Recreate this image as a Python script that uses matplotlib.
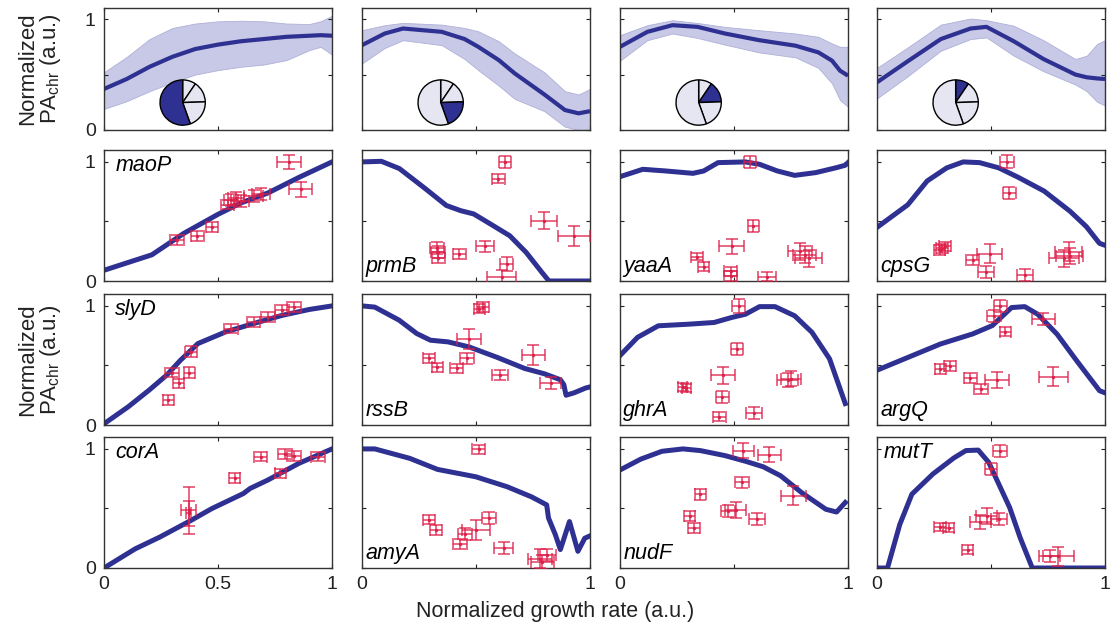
import numpy as np
import matplotlib
matplotlib.use('Agg')
import matplotlib.pyplot as plt

plt.rcParams['font.family'] = ['Liberation Sans', 'DejaVu Sans']
plt.rcParams['mathtext.fontset'] = 'custom'
plt.rcParams['mathtext.rm'] = 'Liberation Sans'
plt.rcParams['mathtext.it'] = 'Liberation Sans:italic'

## top row: mean profile with band, one pie per column
top1_x = [0, 0.1, 0.2, 0.3, 0.4, 0.5, 0.6, 0.7, 0.8, 0.9, 0.95, 1.0]
top1_mid = [0.37, 0.46, 0.57, 0.66, 0.73, 0.77, 0.80, 0.82, 0.84, 0.85, 0.855, 0.85]
top1_hi = [0.52, 0.66, 0.82, 0.92, 0.96, 0.98, 0.985, 0.98, 0.96, 0.955, 0.98, 1.03]
top1_lo = [0.19, 0.26, 0.35, 0.43, 0.50, 0.54, 0.57, 0.59, 0.63, 0.72, 0.75, 0.68]

top2_x = [0, 0.1, 0.18, 0.35, 0.45, 0.51, 0.6, 0.67, 0.8, 0.89, 0.95, 1.0]
top2_mid = [0.765, 0.87, 0.915, 0.885, 0.82, 0.75, 0.63, 0.51, 0.32, 0.18, 0.15, 0.17]
top2_hi = [0.90, 0.945, 0.966, 0.95, 0.92, 0.89, 0.80, 0.69, 0.52, 0.35, 0.32, 0.37]
top2_lo = [0.60, 0.74, 0.81, 0.765, 0.64, 0.54, 0.40, 0.28, 0.17, 0.03, 0.0, 0.0]

top3_x = [0, 0.12, 0.23, 0.34, 0.46, 0.61, 0.77, 0.87, 0.93, 0.965, 1.0]
top3_mid = [0.75, 0.885, 0.945, 0.93, 0.87, 0.81, 0.76, 0.70, 0.625, 0.535, 0.49]
top3_hi = [0.855, 0.945, 0.99, 0.965, 0.93, 0.9, 0.87, 0.84, 0.78, 0.75, 0.75]
top3_lo = [0.625, 0.81, 0.87, 0.83, 0.77, 0.70, 0.655, 0.56, 0.42, 0.27, 0.21]

top4_x = [0, 0.135, 0.28, 0.41, 0.48, 0.6, 0.73, 0.87, 0.92, 0.965, 1.0]
top4_mid = [0.43, 0.62, 0.82, 0.915, 0.93, 0.80, 0.64, 0.50, 0.475, 0.465, 0.46]
top4_hi = [0.56, 0.745, 0.95, 1.005, 0.99, 0.94, 0.81, 0.64, 0.67, 0.775, 0.81]
top4_lo = [0.285, 0.485, 0.715, 0.82, 0.835, 0.67, 0.53, 0.41, 0.35, 0.255, 0.22]

pie_sizes = [9.5, 15, 20, 55.5]
pie_highlight = [3, 2, 1, 0]   # slice shown dark in columns 1..4

## gene panels: model curve + measured points (x, y, xerr, yerr)
maoP_cx = [0, 0.21, 0.35, 0.50, 0.60, 0.72, 0.855, 1.0]
maoP_cy = [0.09, 0.22, 0.40, 0.56, 0.655, 0.74, 0.87, 1.0]
maoP_x = [0.32, 0.41, 0.473, 0.542, 0.557, 0.58, 0.603, 0.656, 0.687, 0.812, 0.863]
maoP_y = [0.346, 0.38, 0.453, 0.642, 0.68, 0.70, 0.67, 0.713, 0.727, 1.0, 0.769]
maoP_xe = [0.03, 0.03, 0.025, 0.03, 0.03, 0.035, 0.035, 0.04, 0.04, 0.053, 0.05]
maoP_ye = [0.04, 0.04, 0.04, 0.04, 0.05, 0.05, 0.05, 0.05, 0.05, 0.056, 0.06]

prmB_cx = [0, 0.085, 0.164, 0.278, 0.37, 0.434, 0.49, 0.563, 0.648, 0.72, 0.79, 0.82, 1.0]
prmB_cy = [1.0, 1.005, 0.944, 0.775, 0.634, 0.59, 0.563, 0.479, 0.38, 0.24, 0.07, 0.0, 0.0]
prmB_x = [0.627, 0.598, 0.332, 0.335, 0.33, 0.427, 0.541, 0.634, 0.613, 0.80, 0.93]
prmB_y = [1.0, 0.86, 0.24, 0.197, 0.28, 0.225, 0.29, 0.14, 0.03, 0.507, 0.375]
prmB_xe = [0.028, 0.028, 0.03, 0.03, 0.03, 0.03, 0.04, 0.03, 0.064, 0.057, 0.069]
prmB_ye = [0.05, 0.04, 0.05, 0.05, 0.05, 0.04, 0.05, 0.06, 0.06, 0.07, 0.085]

yaaA_cx = [0, 0.1, 0.2, 0.32, 0.367, 0.43, 0.55, 0.612, 0.69, 0.766, 0.858, 0.95, 0.988, 1.0]
yaaA_cy = [0.876, 0.938, 0.924, 0.904, 0.924, 0.994, 1.0, 0.98, 0.924, 0.887, 0.91, 0.952, 0.972, 0.994]
yaaA_x = [0.57, 0.585, 0.49, 0.337, 0.367, 0.485, 0.485, 0.646, 0.79, 0.827, 0.81]
yaaA_y = [1.0, 0.465, 0.29, 0.205, 0.12, 0.08, 0.04, 0.037, 0.25, 0.19, 0.22]
yaaA_xe = [0.028, 0.025, 0.054, 0.025, 0.025, 0.03, 0.03, 0.04, 0.054, 0.058, 0.05]
yaaA_ye = [0.05, 0.05, 0.062, 0.03, 0.04, 0.04, 0.04, 0.04, 0.07, 0.07, 0.07]

cpsG_cx = [0, 0.135, 0.22, 0.306, 0.378, 0.45, 0.534, 0.62, 0.733, 0.847, 0.918, 0.976, 1.0]
cpsG_cy = [0.45, 0.64, 0.84, 0.95, 1.0, 0.994, 0.95, 0.87, 0.755, 0.585, 0.457, 0.316, 0.30]
cpsG_x = [0.57, 0.58, 0.285, 0.298, 0.275, 0.42, 0.494, 0.477, 0.648, 0.82, 0.84, 0.845]
cpsG_y = [1.0, 0.74, 0.274, 0.29, 0.26, 0.175, 0.23, 0.076, 0.048, 0.19, 0.246, 0.21]
cpsG_xe = [0.03, 0.028, 0.025, 0.025, 0.025, 0.028, 0.054, 0.035, 0.035, 0.064, 0.06, 0.06]
cpsG_ye = [0.055, 0.05, 0.04, 0.04, 0.04, 0.04, 0.08, 0.05, 0.05, 0.07, 0.08, 0.07]

slyD_cx = [0, 0.107, 0.198, 0.275, 0.336, 0.412, 0.534, 0.656, 0.78, 0.9, 1.0]
slyD_cy = [0.01, 0.154, 0.293, 0.419, 0.545, 0.684, 0.782, 0.852, 0.92, 0.97, 1.0]
slyD_x = [0.282, 0.298, 0.328, 0.374, 0.382, 0.557, 0.656, 0.718, 0.78, 0.832]
slyD_y = [0.21, 0.44, 0.35, 0.44, 0.615, 0.81, 0.866, 0.908, 0.964, 0.99]
slyD_xe = [0.025, 0.03, 0.025, 0.025, 0.025, 0.03, 0.03, 0.03, 0.03, 0.03]
slyD_ye = [0.04, 0.04, 0.04, 0.045, 0.045, 0.04, 0.04, 0.04, 0.04, 0.04]

rssB_cx = [0, 0.056, 0.163, 0.24, 0.30, 0.377, 0.469, 0.59, 0.713, 0.80, 0.87, 0.885, 0.895, 0.93, 0.98, 1.0]
rssB_cy = [1.0, 0.99, 0.88, 0.768, 0.712, 0.698, 0.656, 0.57, 0.475, 0.43, 0.38, 0.34, 0.25, 0.27, 0.31, 0.32]
rssB_x = [0.515, 0.53, 0.293, 0.331, 0.415, 0.46, 0.469, 0.606, 0.751, 0.828]
rssB_y = [0.978, 0.99, 0.56, 0.483, 0.475, 0.56, 0.726, 0.42, 0.587, 0.35]
rssB_xe = [0.025, 0.025, 0.025, 0.025, 0.028, 0.03, 0.053, 0.035, 0.05, 0.046]
rssB_ye = [0.04, 0.04, 0.04, 0.04, 0.04, 0.045, 0.084, 0.045, 0.084, 0.05]

ghrA_cx = [0, 0.077, 0.168, 0.306, 0.413, 0.49, 0.55, 0.612, 0.68, 0.766, 0.842, 0.919, 0.988]
ghrA_cy = [0.583, 0.736, 0.833, 0.847, 0.861, 0.903, 0.93, 0.994, 0.994, 0.917, 0.778, 0.556, 0.18]
ghrA_x = [0.52, 0.513, 0.275, 0.29, 0.452, 0.449, 0.436, 0.587, 0.735, 0.75]
ghrA_y = [1.0, 0.639, 0.32, 0.31, 0.417, 0.236, 0.07, 0.10, 0.375, 0.39]
ghrA_xe = [0.03, 0.025, 0.02, 0.02, 0.054, 0.03, 0.03, 0.035, 0.046, 0.046]
ghrA_ye = [0.06, 0.05, 0.035, 0.035, 0.07, 0.05, 0.04, 0.05, 0.06, 0.06]

argQ_cx = [0, 0.135, 0.278, 0.42, 0.506, 0.59, 0.648, 0.705, 0.79, 0.876, 0.976, 1.0]
argQ_cy = [0.46, 0.567, 0.68, 0.765, 0.835, 0.986, 0.994, 0.93, 0.762, 0.539, 0.288, 0.27]
argQ_x = [0.541, 0.513, 0.563, 0.73, 0.278, 0.32, 0.409, 0.456, 0.527, 0.774]
argQ_y = [1.0, 0.916, 0.785, 0.888, 0.47, 0.497, 0.394, 0.302, 0.377, 0.405]
argQ_xe = [0.03, 0.03, 0.025, 0.05, 0.025, 0.025, 0.028, 0.03, 0.054, 0.064]
argQ_ye = [0.05, 0.05, 0.04, 0.05, 0.04, 0.04, 0.04, 0.045, 0.07, 0.078]

corA_cx = [0, 0.137, 0.244, 0.382, 0.473, 0.611, 0.641, 0.718, 0.855, 1.0]
corA_cy = [0.0, 0.161, 0.259, 0.4, 0.499, 0.625, 0.668, 0.738, 0.879, 1.0]
corA_x = [0.371, 0.371, 0.573, 0.687, 0.774, 0.794, 0.832, 0.94]
corA_y = [0.485, 0.46, 0.757, 0.935, 0.794, 0.958, 0.94, 0.935]
corA_xe = [0.034, 0.01, 0.025, 0.03, 0.025, 0.03, 0.03, 0.03]
corA_ye = [0.197, 0.105, 0.04, 0.04, 0.04, 0.04, 0.04, 0.04]

amyA_cx = [0, 0.056, 0.209, 0.331, 0.499, 0.637, 0.744, 0.81, 0.818, 0.848, 0.87, 0.91, 0.947, 0.977, 1.0]
amyA_cy = [1.0, 1.0, 0.921, 0.828, 0.766, 0.682, 0.597, 0.53, 0.42, 0.28, 0.155, 0.39, 0.14, 0.25, 0.27]
amyA_x = [0.511, 0.293, 0.324, 0.43, 0.453, 0.5, 0.557, 0.621, 0.782, 0.79, 0.81]
amyA_y = [0.997, 0.406, 0.321, 0.20, 0.287, 0.32, 0.42, 0.17, 0.076, 0.05, 0.11]
amyA_xe = [0.028, 0.025, 0.025, 0.03, 0.03, 0.06, 0.03, 0.043, 0.053, 0.05, 0.04]
amyA_ye = [0.04, 0.04, 0.04, 0.04, 0.05, 0.085, 0.05, 0.05, 0.08, 0.06, 0.05]

nudF_cx = [0, 0.092, 0.184, 0.276, 0.352, 0.46, 0.551, 0.628, 0.704, 0.796, 0.903, 0.95, 0.988]
nudF_cy = [0.823, 0.915, 0.98, 1.0, 0.986, 0.944, 0.896, 0.85, 0.775, 0.634, 0.493, 0.47, 0.55]
nudF_x = [0.54, 0.655, 0.536, 0.352, 0.306, 0.325, 0.475, 0.508, 0.6, 0.76]
nudF_y = [0.986, 0.952, 0.718, 0.62, 0.437, 0.338, 0.479, 0.487, 0.408, 0.606]
nudF_xe = [0.046, 0.05, 0.03, 0.025, 0.025, 0.025, 0.03, 0.046, 0.035, 0.054]
nudF_ye = [0.06, 0.06, 0.045, 0.045, 0.04, 0.04, 0.05, 0.07, 0.05, 0.079]

mutT_cx = [0, 0.046, 0.1, 0.153, 0.245, 0.337, 0.39, 0.444, 0.49, 0.582, 0.628, 0.681, 1.0]
mutT_cy = [0.0, 0.0, 0.366, 0.62, 0.789, 0.924, 0.986, 0.99, 0.887, 0.507, 0.254, 0.0, 0.0]
mutT_x = [0.539, 0.50, 0.276, 0.314, 0.398, 0.452, 0.482, 0.533, 0.758, 0.796]
mutT_y = [0.986, 0.83, 0.346, 0.34, 0.155, 0.389, 0.437, 0.408, 0.10, 0.10]
mutT_xe = [0.03, 0.025, 0.025, 0.025, 0.025, 0.046, 0.046, 0.035, 0.046, 0.069]
mutT_ye = [0.05, 0.05, 0.035, 0.035, 0.04, 0.06, 0.07, 0.05, 0.05, 0.08]

TOP = [(top1_x, top1_mid, top1_lo, top1_hi), (top2_x, top2_mid, top2_lo, top2_hi),
       (top3_x, top3_mid, top3_lo, top3_hi), (top4_x, top4_mid, top4_lo, top4_hi)]

GENES = [
    [('maoP', maoP_cx, maoP_cy, maoP_x, maoP_y, maoP_xe, maoP_ye),
     ('prmB', prmB_cx, prmB_cy, prmB_x, prmB_y, prmB_xe, prmB_ye),
     ('yaaA', yaaA_cx, yaaA_cy, yaaA_x, yaaA_y, yaaA_xe, yaaA_ye),
     ('cpsG', cpsG_cx, cpsG_cy, cpsG_x, cpsG_y, cpsG_xe, cpsG_ye)],
    [('slyD', slyD_cx, slyD_cy, slyD_x, slyD_y, slyD_xe, slyD_ye),
     ('rssB', rssB_cx, rssB_cy, rssB_x, rssB_y, rssB_xe, rssB_ye),
     ('ghrA', ghrA_cx, ghrA_cy, ghrA_x, ghrA_y, ghrA_xe, ghrA_ye),
     ('argQ', argQ_cx, argQ_cy, argQ_x, argQ_y, argQ_xe, argQ_ye)],
    [('corA', corA_cx, corA_cy, corA_x, corA_y, corA_xe, corA_ye),
     ('amyA', amyA_cx, amyA_cy, amyA_x, amyA_y, amyA_xe, amyA_ye),
     ('nudF', nudF_cx, nudF_cy, nudF_x, nudF_y, nudF_xe, nudF_ye),
     ('mutT', mutT_cx, mutT_cy, mutT_x, mutT_y, mutT_xe, mutT_ye)],
]
LABEL_TOP = ['maoP', 'slyD', 'corA', 'mutT']

BLUE = '#2e3192'
BAND = '#c8c9e6'
RED = '#dc1f48'
PIE_LIGHT = '#e6e6f2'

## layout in pixels
W, H = 1110, 630
COL_LEFT = [104, 362, 620, 877]
COL_W = 228
ROW_TOP = [8, 150, 294, 437]
ROW_H = [122, 131, 131, 131]

fig = plt.figure(figsize=(W / 100, H / 100), dpi=100)


def px_axes(l, t, w, h):
    return fig.add_axes([l / W, 1 - (t + h) / H, w / W, h / H])


def style(ax, row, col):
    ax.set_xlim(0, 1)
    ax.set_ylim(0, 1.1)
    ax.set_xticks([0, 0.5, 1])
    ax.set_yticks([0, 0.5, 1])
    ax.tick_params(direction='in', length=3, width=0.8, top=True, right=True,
                   labelsize=14, colors='#222222', pad=6)
    for s in ax.spines.values():
        s.set_linewidth(1.0)
        s.set_color('#333333')
    if col == 0:
        ax.set_yticklabels(['0', '', '1'])
    else:
        ax.set_yticklabels([])
    if row == 3:
        ax.set_xticklabels(['0', '0.5', '1'] if col == 0 else ['0', '', '1'])
    else:
        ax.set_xticklabels([])


for c in range(4):
    ax = px_axes(COL_LEFT[c], ROW_TOP[0], COL_W, ROW_H[0])
    x, mid, lo, hi = TOP[c]
    ax.fill_between(x, lo, hi, facecolor=BAND, edgecolor='#aeb0d8', lw=0.6)
    ax.plot(x, mid, color=BLUE, lw=3.0, solid_capstyle='butt')
    style(ax, 0, c)
    rw = 24 / COL_W
    rh = 24 / ROW_H[0]
    pax = ax.inset_axes([0.345 - rw, 0.225 - rh, 2 * rw, 2 * rh])
    cols = [BLUE if i == pie_highlight[c] else PIE_LIGHT for i in range(len(pie_sizes))]
    pax.pie(pie_sizes, colors=cols, startangle=90, counterclock=False,
            wedgeprops=dict(edgecolor='black', linewidth=1.0))
    pax.set_aspect('equal')
    pax.set_xlim(-1.06, 1.06)
    pax.set_ylim(-1.06, 1.06)

for r in range(3):
    for c in range(4):
        name, cx, cy, px, py, pxe, pye = GENES[r][c]
        ax = px_axes(COL_LEFT[c], ROW_TOP[r + 1], COL_W, ROW_H[r + 1])
        ax.plot(cx, cy, color=BLUE, lw=3.6, zorder=2, solid_joinstyle='round')
        ax.errorbar(px, py, xerr=pxe, yerr=pye, fmt='.', ms=3, color=RED, ecolor=RED,
                    elinewidth=1.1, capsize=4.5, capthick=1.1, alpha=0.85, zorder=3)
        style(ax, r + 1, c)
        if name in LABEL_TOP:
            ax.text(0.05 if c == 0 else 0.03, 0.96, name, transform=ax.transAxes,
                    fontsize=15.5, style='italic', va='top', ha='left')
        else:
            ax.text(0.015, 0.03, name, transform=ax.transAxes,
                    fontsize=15.5, style='italic', va='bottom', ha='left')

ylab = 'Normalized\nPA$_{\\rm chr}$ (a.u.)'
for r in [0, 2]:
    yc = ROW_TOP[r] + ROW_H[r] / 2
    fig.text(40 / W, 1 - yc / H, ylab, rotation=90, ha='center', va='center',
             multialignment='center', fontsize=16, linespacing=1.0, color='#222222')

fig.text(555 / W, 1 - 612 / H, 'Normalized growth rate (a.u.)', ha='center', va='center',
         fontsize=15.5, color='#222222')

fig.savefig('out.png', dpi=100)
